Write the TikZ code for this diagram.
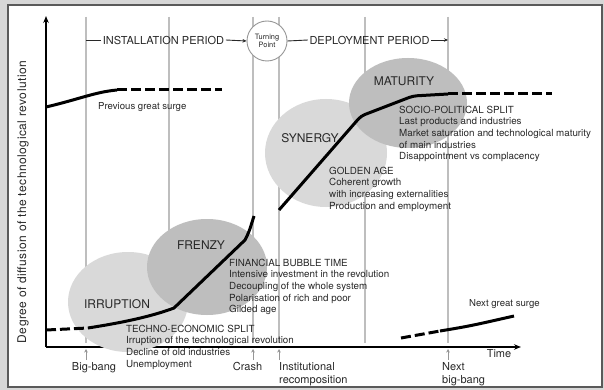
\documentclass[tikz,border=0pt]{standalone}
\usepackage{fontspec}
\setmainfont{TeX Gyre Heros}
\newfontfamily\widefont[LetterSpace=4]{TeX Gyre Heros}
\usetikzlibrary{arrows.meta,shapes.geometric}
\definecolor{bgout}{RGB}{215,215,215}
\definecolor{framec}{RGB}{90,90,90}
\definecolor{vlinec}{RGB}{190,190,190}
\definecolor{tickc}{RGB}{150,150,150}
\definecolor{lightell}{RGB}{217,217,217}
\definecolor{darkell}{RGB}{190,190,190}
\definecolor{txt}{RGB}{40,40,40}
\begin{document}
\begin{tikzpicture}[x=1pt,y=-1pt,
  vline/.style={draw=vlinec,line width=1.3pt},
  axisline/.style={draw=black,line width=1.8pt,-{Stealth[length=7pt,width=5.5pt]}},
  tickarrow/.style={draw=tickc,line width=0.9pt,-{Stealth[length=3.5pt,width=3.5pt]}},
  surge/.style={draw=black,line width=3pt,line join=round},
  dashsurge/.style={surge,dash pattern=on 10pt off 4pt},
  topline/.style={draw=txt,line width=0.9pt},
  toparrow/.style={topline,-{Stealth[length=4pt,width=3.5pt]}},
  phase/.style={font=\fontsize{12}{14}\selectfont,text=txt,inner sep=0pt},
  toplbl/.style={font=\fontsize{11}{13}\selectfont,text=txt,inner sep=1.5pt},
  blk/.style={font=\fontsize{9.8}{11.7}\selectfont,text=txt,align=left,inner sep=0pt,anchor=north west},
  axlbl/.style={font=\fontsize{11}{13}\selectfont,text=txt,inner sep=0pt},
  surgelbl/.style={font=\fontsize{9.6}{11}\selectfont,text=txt,inner sep=0pt,anchor=base west}
]
\useasboundingbox (0,0) rectangle (604,390);
% frame
\fill[bgout] (0,0) rectangle (604,390);
\draw[fill=white,draw=framec,line width=2pt] (8,5) rectangle (602,387);

% vertical guide lines
\foreach \xx in {86,169,253,279,365,448}
  \draw[vline] (\xx,17) -- (\xx,343);

% axes
\coordinate (origin) at (46,347);
\coordinate (ytop) at (46,16);
\coordinate (xend) at (521,347);
\draw[axisline] (origin) -- (ytop);
\draw[axisline] (origin) -- (xend);

% ticks under the axis
\foreach \xx/\nm in {86/ta,253/tb,279/tc,448/td}{
  \coordinate (\nm b) at (\xx,360);
  \coordinate (\nm t) at (\xx,349);
  \draw[tickarrow] (\nm b) -- (\nm t);
}

% phase ellipses
\fill[lightell] (128,302) ellipse [x radius=60pt, y radius=50pt];
\fill[darkell] (207,267) ellipse [x radius=60pt, y radius=48pt];
\fill[lightell] (326,153) ellipse [x radius=61pt, y radius=54pt];
\fill[darkell] (408,103) ellipse [x radius=59pt, y radius=45pt];

% surges
\draw[surge] (46,107) .. controls (80,99) and (95,92) .. (117,90);
\draw[dashsurge] (117,90) -- (222,90);

\draw[dashsurge] (46,330) -- (88,328);
\draw[surge] (88,328) .. controls (120,323) and (150,317) .. (174,308) -- (245,240) .. controls (249,232) .. (254,216);
\draw[surge,rounded corners=4pt] (279,210) -- (361,116) -- (413,96) -- (448,94);
\draw[dashsurge] (448,94) -- (552,94);

\draw[dashsurge] (401,338) -- (440,331);
\draw[surge] (440,331) .. controls (470,326) .. (514,316);

% phase labels
\node[phase] (irr) at (117,304) {IRRUPTION};
\node[phase] (fre) at (201,245.5) {FRENZY};
\node[phase] (syn) at (310,138.5) {SYNERGY};
\node[phase] (mat) at (404,81) {MATURITY};

% text blocks
\node[blk] (tes) at (126,324.5) {TECHNO-ECONOMIC SPLIT\\Irruption of the technological revolution\\Decline of old industries\\Unemployment};
\node[blk] (fbt) at (229,258.5) {FINANCIAL BUBBLE TIME\\Intensive investment in the revolution\\Decoupling of the whole system\\Polarisation of rich and poor\\Gilded age};
\node[blk] (gol) at (329,166.5) {GOLDEN AGE\\Coherent growth\\with increasing externalities\\Production and employment};
\node[blk] (soc) at (399,105.5) {SOCIO-POLITICAL SPLIT\\Last products and industries\\Market saturation and technological maturity\\of main industries\\Disappointment vs complacency};

\node[surgelbl] (prev) at (98,109.5) {Previous great surge};
\node[surgelbl] (next) at (469,306.5) {Next great surge};

% top period labels
\node[circle,draw=tickc,fill=white,line width=0.9pt,minimum size=40pt,inner sep=0pt,
      font=\fontsize{7.4}{8.5}\selectfont,text=txt,align=center] (tp) at (267,41) {Turning\\Point};
\node[toplbl] (inst) at (163.5,40) {INSTALLATION PERIOD};
\node[toplbl] (dep) at (369.5,40) {DEPLOYMENT PERIOD};
\coordinate (instL) at (86,40);
\coordinate (depR) at (448,40);
\draw[topline] (instL) -- (inst.west);
\draw[toparrow] (inst.east) -- (tp.west);
\draw[topline] (tp.east) -- (dep.west);
\draw[toparrow] (dep.east) -- (depR);

% axis labels
\node[axlbl,anchor=base] (bb) at (94,370) {Big-bang};
\node[axlbl,anchor=base] (cr) at (247.5,370) {Crash};
\node[axlbl,anchor=north west,align=left,font=\fontsize{11}{13}\selectfont] (ir) at (279,362) {Institutional\\recomposition};
\node[axlbl,anchor=north west,align=left,font=\fontsize{11}{13}\selectfont] (nb) at (442,362) {Next\\big-bang};
\node[axlbl,anchor=base] (tm) at (499,357) {Time};

% y axis label
\node[rotate=90,font={\widefont\fontsize{12}{14}\selectfont},text=txt,inner sep=0pt] (ylab) at (23,202) {Degree of diffusion of the technological revolution};
\end{tikzpicture}
\end{document}
